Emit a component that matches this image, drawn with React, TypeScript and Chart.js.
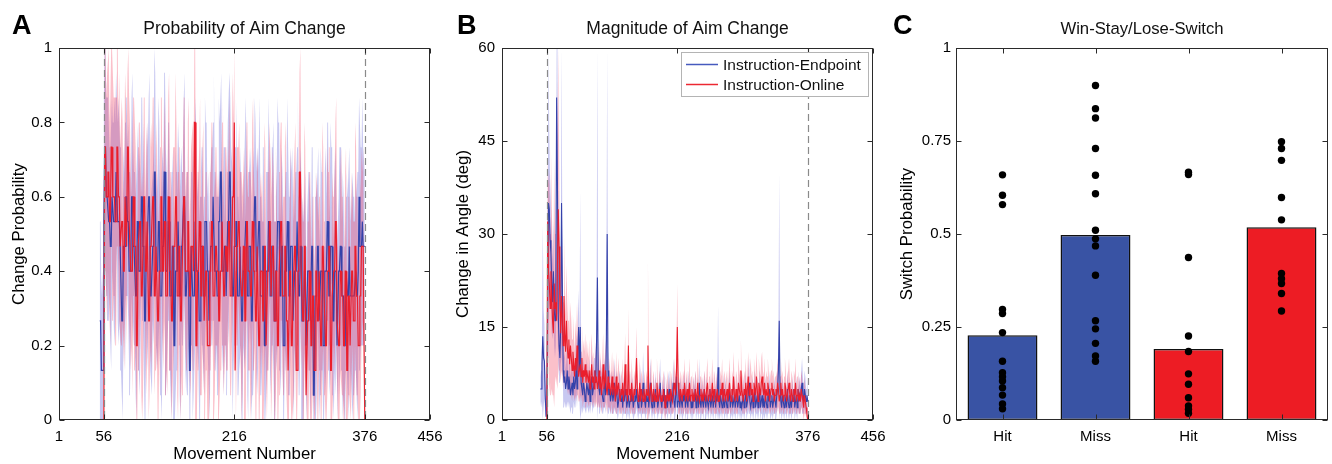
import React, { useEffect, useRef } from 'react';
import { Chart, registerables } from 'chart.js';
Chart.register(...registerables);

const FONT = "'Liberation Sans', Arial, Helvetica, sans-serif";

// ---------- shared axis data ----------
const N_SUBJECTS = 15;
const X_TICKS = [1, 56, 216, 376, 456];
const PHASE_BOUNDS = [56, 376];
const A_Y_TICKS = [0, 0.2, 0.4, 0.6, 0.8, 1];
const B_Y_TICKS = [0, 15, 30, 45, 60];
const C_Y_TICKS = [0, 0.25, 0.5, 0.75, 1];

// ---------- Panel A: probability of aim change (counts out of 15 subjects) ----------
const A_BLUE_START = 51;
const A_BLUE_COUNTS = [
  4,4,2,2,2,
  8,11,11,9,9,9,8,8,7,7,
  9,9,8,8,8,10,10,8,8,8,
  7,7,4,4,7,7,7,9,9,8,
  8,6,6,6,9,9,7,7,7,5,
  5,8,8,6,6,6,9,9,7,7,
  4,4,7,7,7,9,9,5,5,5,
  7,7,10,10,6,6,6,8,8,5,
  5,5,7,7,10,10,6,6,6,8,
  8,5,5,5,7,7,3,3,6,6,
  6,8,8,5,5,7,7,7,9,9,
  5,5,6,6,6,2,2,7,7,5,
  5,5,8,8,6,6,6,4,4,7,
  7,7,5,5,8,8,8,6,6,4,
  4,7,7,7,9,9,6,6,6,5,
  5,8,8,10,10,6,6,6,7,7,
  5,5,8,8,10,10,7,7,5,5,
  7,7,8,8,5,5,5,7,7,4,
  4,6,6,6,8,8,5,5,7,7,
  7,4,4,6,6,9,9,6,6,6,
  8,8,5,5,5,7,7,3,3,6,
  6,6,8,8,5,5,7,7,7,4,
  4,6,6,8,8,8,5,5,7,7,
  3,3,6,6,6,8,8,5,5,7,
  7,7,4,4,6,6,6,8,8,5,
  5,7,7,4,4,4,6,6,3,3,
  6,6,6,4,4,7,7,1,1,5,
  5,5,7,7,4,4,6,6,6,3,
  3,6,6,6,8,8,5,5,7,7,
  7,4,4,6,6,6,3,3,6,6,
  7,7,5,5,5,3,3,6,6,5,
  5,7,5,5,5,5,5,5,5,6,
  5,5,6,9,7,7,7,8,7,7,7,
];
const A_BLUE_CI = [
  4,4,3,4,3,
  5,4,5,4,4,5,4,3,4,5,
  4,3,4,5,4,4,3,4,5,4,
  4,5,3,4,4,3,5,4,4,3,
  4,4,5,3,4,5,4,3,4,4,
  5,3,4,4,5,3,4,4,3,5,
  4,4,3,5,4,4,5,3,4,4,
  3,4,5,4,4,3,4,5,4,3,
  4,5,4,3,4,4,5,4,3,4,
  4,3,4,5,3,4,4,3,5,4,
  4,4,3,4,5,4,3,4,4,5,
  3,4,4,5,3,4,4,3,4,5,
  4,3,5,4,4,3,4,4,5,3,
  4,4,3,4,5,4,4,3,4,4,
  5,3,4,4,3,5,4,4,3,4,
  4,5,4,3,4,4,3,5,4,4,
  3,4,4,5,4,3,4,4,5,3,
  4,4,5,3,4,4,3,4,4,5,
  4,3,4,4,5,3,4,5,4,3,
  4,4,3,5,4,4,3,4,5,4,
  3,5,4,4,3,4,4,5,3,4,
  4,4,5,3,4,3,4,4,5,4,
  4,3,4,5,4,4,3,4,4,3,
  5,4,3,4,4,5,3,4,4,4,
  3,4,5,4,3,4,4,3,5,4,
  4,4,3,4,5,4,3,4,4,5,
  3,4,4,5,3,4,4,4,3,4,
  5,4,3,4,4,3,5,4,4,3,
  4,4,5,3,4,4,3,4,5,4,
  4,3,4,4,5,3,4,4,3,5,
  4,4,3,5,4,4,4,3,4,4,
  5,4,4,3,4,5,4,4,3,4,
  4,5,4,4,5,4,4,5,4,4,3,
];
const A_RED_START = 56;
const A_RED_COUNTS = [
  0,
  11,11,9,9,10,10,8,8,11,11,
  9,9,9,8,8,11,11,9,9,7,
  7,8,8,6,6,9,9,7,11,11,
  8,8,6,6,6,9,9,7,7,3,
  3,7,7,8,8,5,5,5,9,9,
  6,6,8,8,4,4,7,7,7,9,
  9,5,5,7,7,4,4,6,6,9,
  9,6,6,8,8,5,5,5,9,9,
  6,6,4,4,7,7,7,9,9,5,
  5,7,7,4,4,6,6,9,9,6,
  6,6,8,8,5,5,7,7,7,6,
  12,12,3,3,6,6,8,8,5,5,
  7,7,4,4,6,6,3,3,3,6,
  6,8,8,5,5,5,7,7,6,6,
  4,4,6,6,8,8,5,5,7,7,
  6,6,8,8,5,5,7,9,9,12,
  2,2,7,7,8,8,6,6,5,5,
  7,7,4,4,8,8,6,6,6,5,
  5,8,8,6,6,4,4,7,7,3,
  3,6,6,6,4,4,7,7,3,3,
  6,6,8,8,5,5,7,7,4,4,
  6,6,3,3,6,6,8,8,5,5,
  5,7,7,4,4,2,2,6,6,3,
  3,5,5,7,7,2,2,6,6,10,
  10,6,6,4,4,7,7,1,1,4,
  4,6,6,3,3,5,5,2,2,6,
  6,4,4,6,6,3,3,7,7,5,
  5,3,3,6,6,7,7,2,2,5,
  5,6,6,8,8,4,4,3,3,6,
  6,5,5,3,3,6,6,2,2,5,
  5,3,3,6,6,4,4,7,7,5,
  5,3,3,5,5,7,7,7,7,0,
];
const A_RED_CI = [
  0,
  5,5,4,5,4,5,4,5,4,4,
  5,4,4,5,5,4,4,3,5,4,
  4,5,4,3,4,5,4,4,3,4,
  5,4,4,3,5,4,4,5,4,3,
  4,4,5,4,3,4,5,4,4,4,
  3,5,4,4,4,3,4,5,4,4,
  4,4,3,5,4,4,4,3,5,4,
  4,3,4,4,5,4,3,4,4,5,
  4,4,5,3,4,4,4,5,3,4,
  5,4,4,4,3,4,5,4,4,3,
  4,4,4,5,3,4,4,4,5,4,
  3,4,5,4,4,4,3,5,4,4,
  4,5,3,4,4,4,4,3,5,4,
  4,4,4,3,5,4,4,4,3,4,
  5,3,4,4,4,5,4,3,4,4,
  4,4,3,5,4,4,4,5,3,4,
  4,5,4,4,3,4,4,4,5,4,
  3,4,4,5,4,4,3,4,4,5,
  4,4,5,4,3,4,4,4,3,4,
  5,4,3,4,4,4,5,4,3,4,
  4,4,4,3,5,4,4,3,4,4,
  5,3,4,4,4,5,4,4,3,4,
  4,4,5,3,4,4,4,3,5,4,
  3,4,4,4,5,4,3,4,4,4,
  5,4,3,4,4,5,4,4,3,4,
  4,4,4,5,3,4,4,4,5,3,
  4,5,4,3,4,4,4,5,4,3,
  4,4,3,5,4,4,4,3,4,5,
  4,3,4,4,5,4,4,3,4,4,
  5,4,4,3,4,4,5,4,3,4,
  4,4,5,4,3,4,4,4,5,4,
  4,3,4,5,4,4,3,4,4,0,
];

// ---------- Panel B: magnitude of aim change (degrees) ----------
const B_BLUE_START = 48;
const B_BLUE_DEG = [
  5,5,9,13.5,10,9.5,4,0.6,
  1,20,35,34,29,27,22,19,24,18,
  16,20,52,38,17,12,10,15,35,22,
  8,6,7,5,6,8,5,7,6,4,
  5,6,4,7,5,6,9,5,11,15,
  8,15,6,5,4,6,5,3,4,6,
  5,4,6,3,5,7,4,5,6,8,
  6,13,23,7,5,4,6,5,4,3,
  5,6,4,13,30,8,4,5,3,4,
  5,3,4,6,3,5,4,2,3,5,
  4,3,5,2,4,3,5,4,2,3,
  4,2,3,5,3,4,2,3,4,3,
  5,3,2,4,3,5,2,3,6,4,
  3,2,4,3,5,2,4,6,3,2,
  3,4,2,5,3,4,2,3,4,6,
  3,2,4,3,5,2,4,3,2,4,
  5,3,2,4,3,6,3,2,4,7,
  2,3,5,2,4,3,2,4,3,5,
  2,4,3,2,5,3,4,2,3,2,
  4,3,5,2,3,4,2,6,3,2,
  4,3,2,5,3,2,4,3,2,3,
  5,2,3,4,2,3,5,2,4,3,
  8.5,3,2,4,3,2,5,3,2,4,
  3,2,4,3,5,2,3,4,2,3,
  4,2,3,5,2,3,4,2,3,2,
  3,4,2,3,5,2,3,4,6,3,
  2,3,4,2,3,5,2,3,4,2,
  3,5,2,3,4,2,3,2,4,3,
  2,4,3,5,2,3,4,2,3,4,
  3,2,4,5,8,16,5,3,2,4,
  3,2,4,3,2,5,3,2,4,3,
  2,4,3,5,2,3,4,2,5,3,
  4,3,5,6,4,3,5,4,3,4,3,
];
const B_BLUE_SE = [
  2,3,6,18,8,6,3,1,
  2,10,25,12,10,8,8,6,8,6,
  6,8,30,22,8,5,4,6,25,8,
  5,4,4,3,4,5,3,4,4,3,
  3,4,3,4,3,4,5,3,5,6,
  5,22,4,3,3,4,3,2,3,4,
  3,3,4,2,3,4,3,3,4,4,
  4,6,40,4,3,3,4,3,3,2,
  3,4,3,6,30,4,3,3,2,3,
  3,2,3,4,2,3,3,2,2,3,
  3,2,3,2,3,2,4,3,2,2,
  3,2,2,3,2,3,2,2,3,2,
  3,2,2,3,2,4,2,2,5,3,
  2,2,3,2,3,2,3,4,2,2,
  2,3,2,3,2,3,2,2,3,4,
  2,2,3,2,3,2,3,2,2,3,
  3,2,2,3,2,4,2,2,3,4,
  2,2,3,2,3,2,2,3,2,3,
  2,3,2,2,3,2,3,2,2,2,
  3,2,3,2,2,3,2,4,2,2,
  3,2,2,3,2,2,3,2,2,2,
  3,2,2,3,2,2,3,2,3,2,
  10,2,2,3,2,2,3,2,2,3,
  2,2,3,2,3,2,2,3,2,2,
  3,2,2,3,2,2,3,2,2,2,
  2,3,2,2,3,2,2,3,4,2,
  2,2,3,2,2,3,2,2,3,2,
  2,3,2,2,3,2,2,2,3,2,
  2,3,2,3,2,2,3,2,2,3,
  2,2,3,3,4,24,3,2,2,3,
  2,2,3,2,2,3,2,2,3,2,
  2,3,2,3,2,2,3,2,3,2,
  3,2,3,4,3,2,3,3,2,3,2,
];
const B_RED_START = 56;
const B_RED_DEG = [
  0,
  32,24,22,18,24,20,16,14,22,18,
  19,16,25,34,28,18,14,20,16,12,
  20,14,11,16,12,10,13,9,12,10,
  8,11,9,7,10,8,12,9,7,8,
  9,7,10,6,8,7,9,6,8,7,
  6,8,5,7,9,6,7,5,8,6,
  7,5,6,8,5,7,4,6,9,5,
  6,8,5,4,7,5,6,4,5,7,
  4,6,5,3,7,4,5,6,4,3,
  5,4,6,3,5,9,4,5,3,12,
  4,5,3,6,4,3,5,4,6,10,
  5,3,4,6,3,5,4,3,5,4,
  3,5,4,12,4,3,5,6,3,4,
  5,3,4,3,6,4,3,5,4,3,
  4,3,5,4,2,4,3,5,3,4,
  3,5,4,3,4,6,5,4,8,15,
  6,4,3,5,4,3,5,4,6,3,
  4,5,3,4,6,3,4,5,3,4,
  3,5,4,3,6,4,3,4,5,3,
  4,3,5,4,3,5,6,3,4,5,
  3,4,6,3,5,4,3,4,5,3,
  4,3,5,4,6,3,4,5,3,4,
  5,3,4,6,4,3,5,4,7,4,
  3,5,4,3,6,5,4,8,5,4,
  3,5,4,6,3,5,7,4,5,6,
  4,5,3,6,5,4,7,5,3,6,
  5,4,6,7,5,4,6,3,5,4,
  6,5,3,4,5,6,4,5,3,4,
  5,4,6,5,3,4,6,4,5,3,
  4,6,5,3,4,5,6,4,3,5,
  4,3,5,4,6,3,4,5,3,4,
  3,5,4,3,2,4,3,2,1,0,
];
const B_RED_SE = [
  0,
  10,14,18,12,20,15,12,10,20,12,
  12,10,20,26,16,10,8,12,9,7,
  10,8,6,9,7,6,8,5,7,6,
  5,6,5,4,6,5,7,5,4,5,
  5,4,6,4,5,4,5,4,5,4,
  4,5,3,4,5,4,4,3,5,4,
  4,3,4,5,3,4,3,4,5,3,
  4,5,3,3,4,3,4,3,3,4,
  3,4,3,2,4,3,3,4,3,2,
  3,3,4,2,3,5,3,3,2,6,
  3,3,2,4,3,2,3,3,4,5,
  3,2,3,4,2,3,3,2,3,3,
  2,3,3,14,3,2,3,4,2,3,
  3,2,3,2,4,3,2,3,3,2,
  3,2,3,3,2,3,2,3,2,3,
  2,3,3,2,3,4,3,3,4,7,
  4,3,2,3,3,2,3,3,4,2,
  3,3,2,3,4,2,3,3,2,3,
  2,3,3,2,4,3,2,3,3,2,
  3,2,3,3,2,3,4,2,3,3,
  2,3,4,2,3,3,2,3,3,2,
  3,2,3,3,4,2,3,3,2,3,
  3,2,3,4,3,2,3,3,4,3,
  2,3,3,2,4,3,3,5,3,3,
  2,3,3,4,2,3,4,3,3,4,
  3,3,2,4,3,3,4,3,2,4,
  3,3,4,4,3,3,4,2,3,3,
  4,3,2,3,3,4,3,3,2,3,
  3,3,4,3,2,3,4,3,3,2,
  3,4,3,2,3,3,4,3,2,3,
  3,2,3,3,4,2,3,3,2,3,
  2,3,3,2,2,3,2,2,1,0,
];

// ---------- Panel C: win-stay / lose-switch ----------
const C_CATEGORIES = ['Hit', 'Miss', 'Hit', 'Miss'];
const C_MEANS = [0.228, 0.497, 0.191, 0.518];
const C_ENDPOINT_HIT = [0.659, 0.604, 0.579, 0.297, 0.286, 0.235, 0.158, 0.127, 0.116, 0.105, 0.087, 0.067, 0.043, 0.030];
const C_ENDPOINT_MISS = [0.899, 0.837, 0.812, 0.730, 0.658, 0.608, 0.510, 0.487, 0.468, 0.389, 0.267, 0.245, 0.206, 0.172, 0.158];
const C_ONLINE_HIT = [0.666, 0.660, 0.437, 0.226, 0.184, 0.124, 0.096, 0.060, 0.038, 0.029, 0.018];
const C_ONLINE_MISS = [0.748, 0.730, 0.698, 0.598, 0.538, 0.394, 0.380, 0.367, 0.340, 0.293];

// ---------- styling ----------
const BLUE = 'rgb(52,66,170)';
const RED = 'rgb(234,30,44)';
const BLUE_BAND = 'rgba(95,95,215,0.34)';
const RED_BAND = 'rgba(244,60,90,0.32)';
const BAR_BLUE = 'rgb(57,83,164)';
const BAR_RED = 'rgb(237,28,36)';

function series(start: number, vals: number[], k: number) {
  return vals.map((v, i) => ({ x: start + i, y: v * k }));
}
function edge(start: number, vals: number[], hw: number[], k: number, sign: number, hi: number) {
  return vals.map((v, i) => ({ x: start + i, y: Math.min(hi, Math.max(0, (v + sign * (hw[i] ?? 0)) * k)) }));
}

const decoPlugin = {
  id: 'deco',
  afterDatasetsDraw(chart: any, _a: any, opts: any) {
    if (!opts.dashed) return;
    const { ctx, chartArea: ca, scales } = chart;
    ctx.save();
    ctx.strokeStyle = '#8a8a8a';
    ctx.lineWidth = 1.2;
    ctx.setLineDash([7, 4]);
    for (const v of opts.dashed) {
      const x = Math.round(scales.x.getPixelForValue(v)) + 0.5;
      ctx.beginPath();
      ctx.moveTo(x, ca.top);
      ctx.lineTo(x, ca.bottom);
      ctx.stroke();
    }
    ctx.restore();
  },
  afterDraw(chart: any, _a: any, opts: any) {
    const { ctx, chartArea: ca, scales } = chart;
    ctx.save();
    const L = Math.round(ca.left) + 0.5, R = Math.round(ca.right) - 0.5;
    const T = Math.round(ca.top) + 0.5, B = Math.round(ca.bottom) - 0.5;
    ctx.strokeStyle = '#2a2a2a';
    ctx.lineWidth = 1;
    ctx.setLineDash([]);
    ctx.strokeRect(L, T, R - L, B - T);
    const tl = 5;
    ctx.beginPath();
    for (const t of scales.x.ticks) {
      const x = Math.round(scales.x.getPixelForValue(t.value)) + 0.5;
      ctx.moveTo(x, B); ctx.lineTo(x, B - tl);
      ctx.moveTo(x, T); ctx.lineTo(x, T + tl);
    }
    for (const t of scales.y.ticks) {
      const y = Math.round(scales.y.getPixelForValue(t.value)) + 0.5;
      ctx.moveTo(L, y); ctx.lineTo(L + tl, y);
      ctx.moveTo(R, y); ctx.lineTo(R - tl, y);
    }
    ctx.stroke();
    // title
    ctx.fillStyle = '#111';
    ctx.font = `${opts.titleSize}px ${FONT}`;
    ctx.textAlign = 'center';
    ctx.textBaseline = 'alphabetic';
    ctx.fillText(opts.title, (ca.left + ca.right) / 2, 34);
    // panel letter
    ctx.font = `bold 27px ${FONT}`;
    ctx.textAlign = 'left';
    ctx.fillStyle = '#000';
    ctx.fillText(opts.letter, opts.letterX, 33.5);
    // legend
    if (opts.legend) {
      const lg = opts.legend;
      ctx.fillStyle = '#fff';
      ctx.fillRect(lg.x, lg.y, lg.w, lg.h);
      ctx.strokeStyle = '#b4b4b4';
      ctx.lineWidth = 1;
      ctx.strokeRect(lg.x + 0.5, lg.y + 0.5, lg.w, lg.h);
      ctx.font = `15.5px ${FONT}`;
      ctx.textBaseline = 'middle';
      ctx.textAlign = 'left';
      lg.items.forEach((it: any, i: number) => {
        const y = lg.y + 12.5 + i * 20;
        ctx.strokeStyle = it.color;
        ctx.lineWidth = 1.5;
        ctx.beginPath();
        ctx.moveTo(lg.x + 5, y);
        ctx.lineTo(lg.x + 37, y);
        ctx.stroke();
        ctx.fillStyle = '#111';
        ctx.fillText(it.label, lg.x + 42, y + 1);
      });
    }
    ctx.restore();
  },
};

function axisX(min: number, max: number, ticks: number[], fmt: (v: number) => string, title?: string) {
  return {
    type: 'linear', min, max, offset: false,
    afterBuildTicks: (s: any) => { s.ticks = ticks.map((value) => ({ value })); },
    afterFit: (s: any) => { s.height = 44; s.paddingLeft = 0; s.paddingRight = 0; s.paddingTop = 0; s.paddingBottom = 0; },
    grid: { display: false, drawTicks: false, tickLength: 0 }, border: { display: false },
    ticks: { padding: 8, autoSkip: false, maxRotation: 0, color: '#000', font: { family: FONT, size: 15 }, callback: (v: any) => fmt(Number(v)) },
    title: { display: !!title, text: title || '', color: '#000', font: { family: FONT, size: 16.8 }, padding: { top: 0, bottom: 0 } },
  };
}
function axisY(min: number, max: number, ticks: number[], width: number, pad: number, title: string) {
  return {
    type: 'linear', min, max,
    afterBuildTicks: (s: any) => { s.ticks = ticks.map((value) => ({ value })); },
    afterFit: (s: any) => { s.width = width; s.paddingLeft = 0; s.paddingRight = 0; s.paddingTop = 0; s.paddingBottom = 0; },
    grid: { display: false, drawTicks: false, tickLength: 0 }, border: { display: false },
    ticks: { padding: pad, color: '#000', font: { family: FONT, size: 15 }, callback: (v: any) => String(Number(v)) },
    title: { display: true, text: title, color: '#000', font: { family: FONT, size: 16.8 }, padding: { top: 9, bottom: 0 } },
  };
}

const baseOpts = {
  animation: false, responsive: false, devicePixelRatio: 1, events: [],
  elements: { line: { tension: 0 }, point: { radius: 0 } },
};

function lineDatasets(blueStart: number, blue: number[], blueHw: number[], redStart: number, red: number[], redHw: number[], k: number, hi: number, lw: number) {
  const bandStyle = { borderColor: 'transparent', borderWidth: 0, pointRadius: 0 };
  return [
    { data: series(redStart, red, k), borderColor: RED, borderWidth: lw, pointRadius: 0, fill: false },
    { data: series(blueStart, blue, k), borderColor: BLUE, borderWidth: lw, pointRadius: 0, fill: false },
    { data: edge(redStart, red, redHw, k, 1, hi), ...bandStyle, backgroundColor: RED_BAND, fill: '+1' },
    { data: edge(redStart, red, redHw, k, -1, hi), ...bandStyle, fill: false },
    { data: edge(blueStart, blue, blueHw, k, 1, hi), ...bandStyle, backgroundColor: BLUE_BAND, fill: '+1' },
    { data: edge(blueStart, blue, blueHw, k, -1, hi), ...bandStyle, fill: false },
  ];
}

function configA(): any {
  return {
    type: 'line',
    data: { datasets: lineDatasets(A_BLUE_START, A_BLUE_COUNTS, A_BLUE_CI, A_RED_START, A_RED_COUNTS, A_RED_CI, 1 / N_SUBJECTS, 1, 1.2) },
    options: {
      ...baseOpts,
      layout: { padding: { left: 0, right: 14, top: 48, bottom: 0 } },
      plugins: { legend: { display: false }, tooltip: { enabled: false },
        deco: { title: 'Probability of Aim Change', titleSize: 17.5, letter: 'A', letterX: 12, dashed: PHASE_BOUNDS } },
      scales: {
        x: axisX(1, 456, X_TICKS, (v) => String(v), 'Movement Number'),
        y: axisY(0, 1, A_Y_TICKS, 59, 7, 'Change Probability'),
      },
    },
    plugins: [decoPlugin],
  };
}

function configB(): any {
  return {
    type: 'line',
    data: { datasets: lineDatasets(B_BLUE_START, B_BLUE_DEG, B_BLUE_SE, B_RED_START, B_RED_DEG, B_RED_SE, 1, 60, 1.1) },
    options: {
      ...baseOpts,
      layout: { padding: { left: 0, right: 15, top: 48, bottom: 0 } },
      plugins: { legend: { display: false }, tooltip: { enabled: false },
        deco: { title: 'Magnitude of Aim Change', titleSize: 17.5, letter: 'B', letterX: 13, dashed: PHASE_BOUNDS,
          legend: { x: 237, y: 52, w: 187, h: 44, items: [
            { label: 'Instruction-Endpoint', color: 'rgb(70,90,190)' },
            { label: 'Instruction-Online', color: 'rgb(236,40,50)' },
          ] } } },
      scales: {
        x: axisX(1, 456, X_TICKS, (v) => String(v), 'Movement Number'),
        y: axisY(0, 60, B_Y_TICKS, 58, 7, 'Change in Angle (deg)'),
      },
    },
    plugins: [decoPlugin],
  };
}

function configC(): any {
  const groups = [C_ENDPOINT_HIT, C_ENDPOINT_MISS, C_ONLINE_HIT, C_ONLINE_MISS];
  const dots = groups.flatMap((g, i) => g.map((v) => ({ x: i + 1, y: v })));
  return {
    type: 'bar',
    data: {
      datasets: [
        { type: 'scatter', data: dots, pointRadius: 3.7, pointBackgroundColor: '#000', pointBorderWidth: 0, pointBorderColor: '#000' },
        { type: 'bar', data: C_MEANS.map((m, i) => ({ x: i + 1, y: m })),
          backgroundColor: [BAR_BLUE, BAR_BLUE, BAR_RED, BAR_RED], borderColor: '#111', borderWidth: 1.5,
          borderSkipped: false, barPercentage: 0.752, categoryPercentage: 1 },
      ],
    },
    options: {
      ...baseOpts,
      layout: { padding: { left: 0, right: 3, top: 48, bottom: 0 } },
      plugins: { legend: { display: false }, tooltip: { enabled: false },
        deco: { title: 'Win-Stay/Lose-Switch', titleSize: 16.7, letter: 'C', letterX: 5 } },
      scales: {
        x: axisX(0.5, 4.5, [1, 2, 3, 4], (v) => C_CATEGORIES[Math.round(v) - 1] || ''),
        y: axisY(0, 1, C_Y_TICKS, 68, 5, 'Switch Probability'),
      },
    },
    plugins: [decoPlugin],
  };
}

function Panel({ left, make }: { left: number; make: () => any }) {
  const ref = useRef<HTMLCanvasElement>(null);
  useEffect(() => {
    const chart = new Chart(ref.current as HTMLCanvasElement, make());
    return () => chart.destroy();
  }, []);
  return <canvas ref={ref} width={444} height={464} style={{ position: 'absolute', left, top: 0, width: 444, height: 464 }} />;
}

export default function App() {
  return (
    <div style={{ position: 'fixed', left: 0, top: 0, width: 1332, height: 464, background: '#fff', overflow: 'hidden' }}>
      <Panel left={0} make={configA} />
      <Panel left={444} make={configB} />
      <Panel left={888} make={configC} />
    </div>
  );
}
